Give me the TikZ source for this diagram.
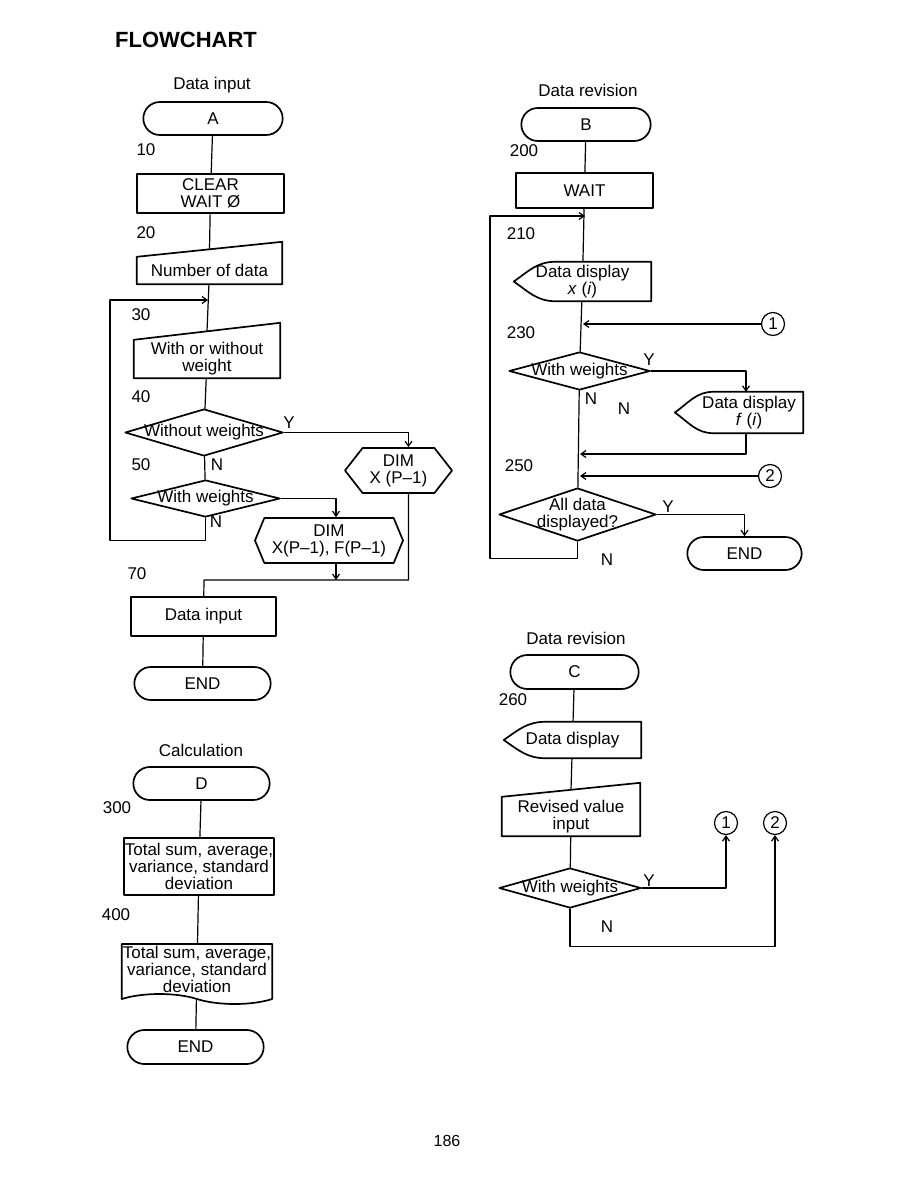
\documentclass[tikz,border=0pt]{standalone}
\usepackage{fontspec}
\setmainfont{Liberation Sans}
\usepackage{tikz}
\usetikzlibrary{arrows.meta,calc,shapes.geometric,shapes.misc,shapes.symbols}
\tikzset{
  every picture/.style={line join=round, line cap=round, >={Straight Barb[length=5pt,width=7pt]}},
  outline/.style={line width=1.7pt},
  wire/.style={line width=1.2pt},
  term/.style={rounded rectangle, draw, outline, minimum height=33pt},
  proc/.style={rectangle, draw, outline, align=center, inner sep=1pt},
  dec/.style={diamond, draw, outline, inner sep=0pt},
  prep/.style={signal, signal to=west and east, draw, outline, align=center, inner sep=1pt},
  manin/.style={rectangle, align=center, inner sep=1pt},
  disp/.style={rectangle, align=center, inner sep=1pt},
  docu/.style={tape, tape bend top=none, tape bend bottom=out and in, tape bend height=10pt, draw, outline, align=center, inner sep=1pt},
  conn/.style={circle, draw, wire, inner sep=0pt, minimum size=23pt},
  num/.style={inner sep=0pt},
}
% slanted top of a manual input box, plus the point where a line meets it
\newcommand{\maninput}[2]{%
  \draw[outline] (#1.south west) -- (#1.south east) -- ([yshift=#2]#1.north east) -- (#1.north west) -- cycle;
  \coordinate (#1-top) at ($(#1.north west)!.5!([yshift=#2]#1.north east)$);
}
% display symbol
\newcommand{\dispshape}[1]{%
  \draw[outline] (#1.north east) -- (#1.south east) -- ($(#1.south west)!.3!(#1.south east)$)
    to[out=180,in=-35] (#1.west) to[out=35,in=180] ($(#1.north west)!.3!(#1.north east)$) -- cycle;
}

\begin{document}
\begin{tikzpicture}[x=1pt,y=-1pt,font=\fontsize{17}{17}\selectfont]
\useasboundingbox (0,0) rectangle (918,1188);
\node[num] (ttl) at (186,40) {\fontsize{22}{22}\selectfont\bfseries FLOWCHART};
\node[num] (page) at (447,1141) {\fontsize{16}{16}\selectfont 186};

% Data input
\node[num] (capA) at (212,85) {Data input};
\node[term, minimum width=146] (A) at (213,118.5) {A};
\node[num] (l10) at (146,150) {10};
\node[proc, minimum width=147, minimum height=39] (b10) at (210.5,193.5) {CLEAR\\WAIT Ø};
\node[num] (l20) at (146,233) {20};
\node[manin, minimum width=145, minimum height=27] (n20) at (209.5,270.5) {Number of data};
\maninput{n20}{15}
\coordinate (j30) at (208,300);
\coordinate (k30) at (110,300);
\node[num] (l30) at (141,315) {30};
\node[manin, minimum width=146, minimum height=38] (n30) at (207,359) {With or without\\weight};
\maninput{n30}{17}
\node[num] (l40) at (141,397) {40};
\node[dec, minimum width=158, minimum height=47, label=center:{Without weights}] (d40) at (204,432.5) {};
\node[num] (y40) at (289,423) {Y};
\node[prep, signal pointer angle=104, minimum width=107, minimum height=45] (h1) at (398.5,470.5) {DIM\\X (P--1)};
\node[num] (l50) at (141,465) {50};
\node[num] (n40) at (217,465) {N};
\node[dec, minimum width=149, minimum height=37, label=center:{With weights}] (d50) at (205.5,498.5) {};
\node[num] (n50) at (216,522) {N};
\node[prep, signal pointer angle=135, minimum width=148, minimum height=45] (h2) at (329,540.5) {DIM\\X(P--1), F(P--1)};
\node[num] (l70) at (137,574) {70};
\coordinate (j70) at (204,580);
\node[proc, minimum width=145, minimum height=39] (b70) at (203.5,616.5) {Data input};
\node[term, minimum width=143] (endA) at (202.5,683.5) {END};

\draw[wire] (A) -- (b10);
\draw[wire] (b10) -- (n20-top);
\draw[wire] (n20) -- (n30-top);
\draw[wire] (n30) -- (d40);
\draw[wire] (d40) -- (d50);
\draw[wire,->] (d50.south) -- ++(0,23) -| (k30) -- (j30);
\draw[wire,->] (d40.east) -| ([xshift=10]h1.north);
\draw[wire,->] (d50.east) -| ([xshift=7]h2.north);
\draw[wire,->] ([xshift=7]h2.south) -- ([xshift=7]h2.south |- j70);
\draw[wire] ([xshift=10]h1.south) |- (j70) -- (b70);
\draw[wire] (b70) -- (endA);

% Calculation
\node[num] (capD) at (201,750) {Calculation};
\node[term, minimum width=143] (D) at (201.5,783.5) {D};
\node[num] (l300) at (117,808) {300};
\node[proc, minimum width=146, minimum height=57] (b300) at (199,866.5) {Total sum, average,\\variance, standard\\deviation};
\node[num] (l400) at (116,915) {400};
\node[docu, minimum width=146, minimum height=60] (doc400) at (197,969) {Total sum, average,\\variance, standard\\deviation};
\node[term, minimum width=143, minimum height=34] (endD) at (195.5,1047) {END};

\draw[wire] (D) -- (b300);
\draw[wire] (b300) -- (doc400);
\draw[wire] (doc400) -- (endD);

% Data revision (B)
\node[num] (capB) at (588,90) {Data revision};
\node[term, minimum width=136] (B) at (586,124.5) {B};
\node[num] (l200) at (524,151) {200};
\node[proc, minimum width=137, minimum height=35] (bwait) at (584.5,190.5) {WAIT};
\coordinate (j210) at (585,216);
\coordinate (k210) at (490,216);
\node[num] (l210) at (521,234) {210};
\node[disp, minimum width=137, minimum height=39] (disp210) at (582.5,281.5) {Data display\\\textit{x} (\textit{i})};
\dispshape{disp210}
\node[conn] (c1a) at (773,324) {1};
\coordinate (j230) at (583,324);
\node[num] (l230) at (521,333) {230};
\node[dec, minimum width=141, minimum height=38, label=center:{With weights}] (d230) at (579.5,371) {};
\node[num] (y230) at (649,360) {Y};
\node[num] (n230) at (591,399) {N};
\node[num] (n230b) at (624,409) {N};
\node[disp, minimum width=128, minimum height=41] (dispf) at (739,412.5) {\hspace*{20pt}Data display\\\hspace*{20pt}\textit{f} (\textit{i})};
\dispshape{dispf}
\coordinate (j245) at (580,454);
\node[conn] (c2a) at (770,476) {2};
\coordinate (j250) at (580,476);
\node[num] (l250) at (519,466) {250};
\node[dec, minimum width=157, minimum height=53, label={[align=center]center:{All data\\displayed?}}] (d250) at (577.5,514.5) {};
\node[num] (y250) at (668,507) {Y};
\node[num] (n250) at (607,560) {N};
\node[term, minimum width=121] (endB) at (744.5,553.5) {END};

\draw[wire] (B) -- (bwait);
\draw[wire] (bwait) -- (disp210);
\draw[wire] (disp210) -- (d230);
\draw[wire,->] (c1a) -- (j230);
\draw[wire] (d230) -- (d250);
\draw[wire,->] (d230.east) -| ([xshift=7]dispf.north);
\draw[wire,->] ([xshift=7]dispf.south) |- (j245);
\draw[wire,->] (c2a) -- (j250);
\draw[wire,->] (d250.east) -| (endB.north);
\draw[wire,->] (d250.south) -- ++(0,17) -| (k210) -- (j210);

% Data revision (C)
\node[num] (capC) at (576,638) {Data revision};
\node[term, minimum width=135, minimum height=34] (C) at (574.5,672) {C};
\node[num] (l260) at (513,700) {260};
\node[disp, minimum width=137, minimum height=36] (disp260) at (572.5,740) {Data display};
\dispshape{disp260}
\node[manin, minimum width=138, minimum height=39] (nrev) at (571,816.5) {Revised value\\input};
\maninput{nrev}{14}
\node[conn] (c1b) at (726,823) {1};
\node[conn] (c2b) at (775,823) {2};
\node[dec, minimum width=142, minimum height=40, label=center:{With weights}] (dC) at (570,888) {};
\node[num] (yC) at (649,881) {Y};
\node[num] (nC) at (607,927) {N};

\draw[wire] (C) -- (disp260);
\draw[wire] (disp260) -- (nrev-top);
\draw[wire] (nrev) -- (dC);
\draw[wire,->] (dC.east) -| (c1b.south);
\draw[wire,->] (dC.south) -- ++(0,38) -| (c2b.south);
\end{tikzpicture}
\end{document}
